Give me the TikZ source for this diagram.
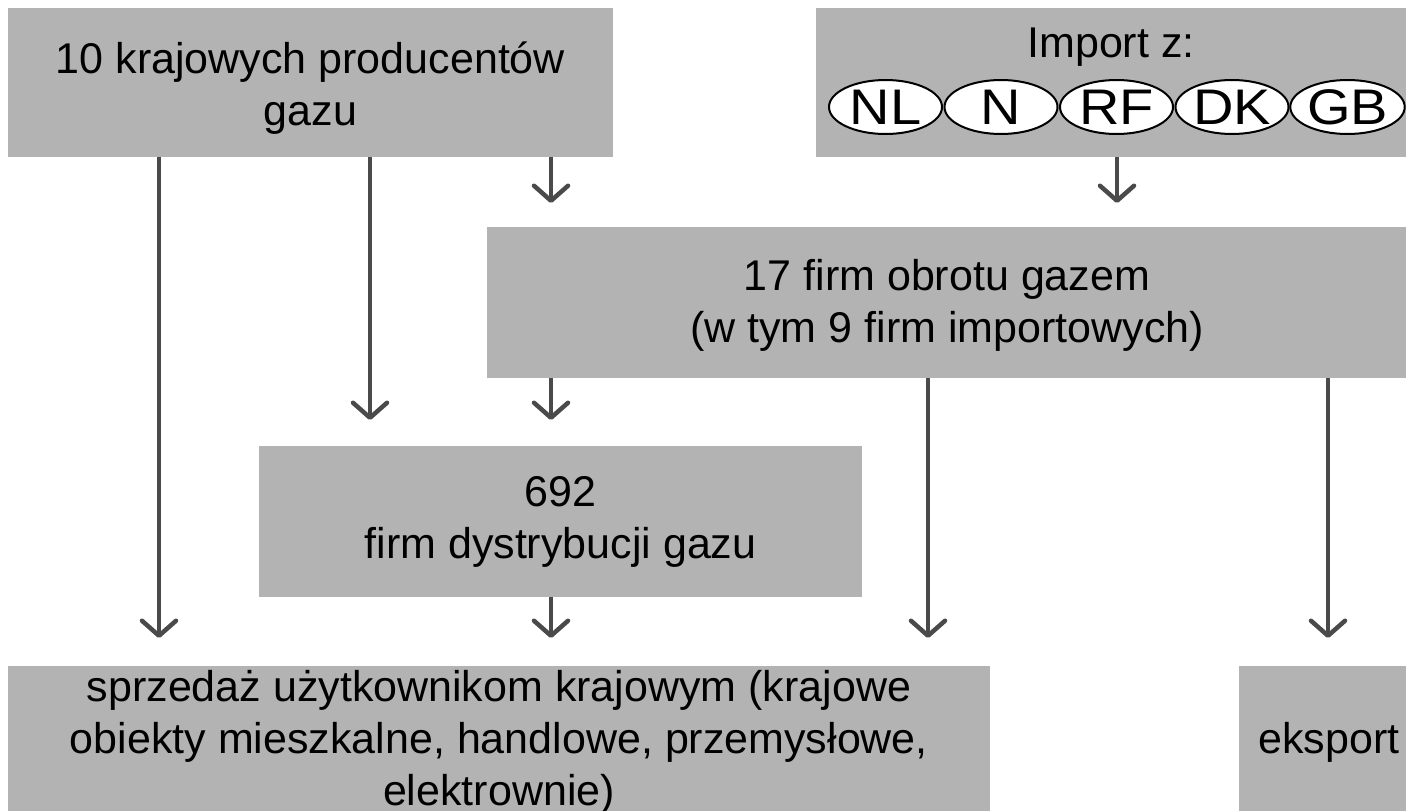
\documentclass[tikz,border=0pt]{standalone}
\usepackage{fontspec}
\setmainfont{Liberation Sans}
\usetikzlibrary{arrows.meta,shapes.geometric}
\definecolor{boxgray}{RGB}{179,179,179}
\definecolor{arrgray}{RGB}{74,74,74}
\newcommand{\wide}[1]{\scalebox{1.12}[1]{#1}}
\tikzset{
  box/.style={fill=boxgray, draw=none, inner sep=0pt, align=center,
    font=\fontsize{43}{52}\selectfont},
  txt/.style={inner sep=0pt, align=center, font=\fontsize{43}{52}\selectfont},
  oval/.style={ellipse, draw=black, line width=2pt, fill=white, minimum width=113pt,
    minimum height=54pt, inner sep=0pt, font=\fontsize{50}{56}\selectfont},
  arr/.style={draw=arrgray, line width=4.5pt,
    -{Straight Barb[length=15pt, width=34pt, line cap=round, line join=round]}},
}
\begin{document}
\begin{tikzpicture}[x=1pt, y=-1pt]
\useasboundingbox (0,0) rectangle (1406,811);
\clip (0,0) rectangle (1406,811);
% boxes
\node[box, minimum width=605pt, minimum height=149pt] (prod) at (310.5,82.5) {};
\node[txt] (prodt) at (310.5,88) {10 krajowych producentów\\gazu};
\node[box, minimum width=592pt, minimum height=149pt] (imp) at (1112,82.5) {};
\node[txt] (impt) at (1111,47) {Import z:};
\node[oval] (nl) at (885.5,107) {\wide{NL}};
\node[oval] (n)  at (1001,107) {\wide{N}};
\node[oval] (rf) at (1116.5,107) {\wide{RF}};
\node[oval] (dk) at (1232,107) {\wide{DK}};
\node[oval] (gb) at (1347.5,107) {\wide{GB}};
\node[box, minimum width=920pt, minimum height=151pt] (obr) at (947,302.5) {};
\node[txt] (obrt) at (947,305) {17 firm obrotu gazem\\(w tym 9 firm importowych)};
\node[box, minimum width=603pt, minimum height=151pt] (dys) at (560.5,521.5)
  {692\\firm dystrybucji gazu};
\node[box, minimum width=982pt, minimum height=152pt] (sprz) at (499,742)
  {sprzedaż użytkownikom krajowym (krajowe\\obiekty mieszkalne, handlowe, przemysłowe,\\elektrownie)};
\node[box, minimum width=180pt, minimum height=152pt] (eks) at (1329,742) {eksport};
% arrow tips
\coordinate (t1) at (159,638);
\coordinate (t2) at (370,420);
\coordinate (t3) at (551,203);
\coordinate (t4) at (1117,203);
\coordinate (t5) at (551,420);
\coordinate (t6) at (928,638);
\coordinate (t7) at (1328,638);
\coordinate (t8) at (551,638);
% arrows
\draw[arr] (prod.south -| t1) -- (t1);
\draw[arr] (prod.south -| t2) -- (t2);
\draw[arr] (prod.south -| t3) -- (t3);
\draw[arr] (imp.south -| t4) -- (t4);
\draw[arr] (obr.south -| t5) -- (t5);
\draw[arr] (obr.south -| t6) -- (t6);
\draw[arr] (obr.south -| t7) -- (t7);
\draw[arr] (dys.south -| t8) -- (t8);
\end{tikzpicture}
\end{document}
